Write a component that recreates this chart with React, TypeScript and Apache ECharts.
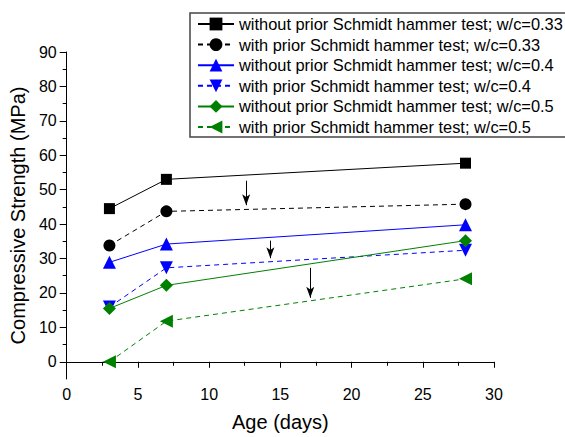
import React, { useEffect, useRef } from "react";
import * as echarts from "echarts";

const ageDays = [3, 7, 28];
const seriesNames = [
  "without prior Schmidt hammer test; w/c=0.33",
  "with prior Schmidt hammer test; w/c=0.33",
  "without prior Schmidt hammer test; w/c=0.4",
  "with prior Schmidt hammer test; w/c=0.4",
  "without prior Schmidt hammer test; w/c=0.5",
  "with prior Schmidt hammer test; w/c=0.5",
];
const woPrior033 = [44.5, 53.0, 57.7];
const wPrior033 = [33.8, 43.7, 45.8];
const woPrior04 = [28.9, 34.2, 39.8];
const wPrior04 = [15.9, 27.3, 32.4];
const woPrior05 = [15.5, 22.2, 35.2];
const wPrior05 = [0, 11.8, 24.1];

const arrowX = [12.6, 14.3, 17.1];
const arrowFrom = [52.6, 35.2, 27.3];
const arrowTo = [45.5, 30.1, 18.6];

const yMajorTicks = [0, 10, 20, 30, 40, 50, 60, 70, 80, 90];
const yMinorTicks = [5, 15, 25, 35, 45, 55, 65, 75, 85];

const FONT = "'Liberation Sans', Arial, sans-serif";

export default function App() {
  const ref = useRef<HTMLDivElement>(null);
  useEffect(() => {
    document.body.style.margin = "0";
    const chart = echarts.init(ref.current!, null, { renderer: "svg" });
    const values = [woPrior033, wPrior033, woPrior04, wPrior04, woPrior05, wPrior05];
    const colors = ["#000000", "#000000", "#0000ff", "#0000ff", "#008000", "#008000"];
    const symbols = ["rect", "circle", "triangle", "triangle", "diamond", "triangle"];
    const rotations = [0, 0, 0, 180, 0, 90];
    const sizes = [11, 12, 13, 13, 13, 13];
    const dashed = [false, true, false, true, false, true];
    const series: any[] = values.map((vals, i) => ({
      name: seriesNames[i],
      type: "line",
      xAxisIndex: 0,
      yAxisIndex: 0,
      data: vals.map((v, j) => [ageDays[j], v]),
      symbol: symbols[i],
      symbolRotate: rotations[i],
      symbolSize: sizes[i],
      showAllSymbol: true,
      color: colors[i],
      itemStyle: { color: colors[i] },
      lineStyle: { color: colors[i], width: 1, type: dashed[i] ? [5, 4] : "solid" },
      emphasis: { disabled: true },
    }));
    series[0].markLine = {
      silent: true,
      symbol: ["none", "arrow"],
      symbolSize: [6, 11],
      label: { show: false },
      lineStyle: { color: "#000", width: 1, type: "solid" },
      emphasis: { disabled: true },
      data: arrowX.map((x, i) => [
        { coord: [x, arrowFrom[i]] },
        { coord: [x, arrowTo[i]] },
      ]),
    };
    chart.setOption({
      animation: false,
      textStyle: { fontFamily: FONT },
      grid: { left: 66.7, right: 71, top: 52, bottom: 56 },
      legend: {
        orient: "vertical",
        left: 190,
        top: 13,
        padding: [3, 3, 2, 7],
        itemWidth: 36,
        itemHeight: 16,
        itemGap: 4.6,
        borderColor: "#444",
        borderWidth: 1.5,
        backgroundColor: "#fff",
        textStyle: { fontSize: 16.4, color: "#000", fontFamily: FONT },
        data: seriesNames,
      },
      xAxis: {
        type: "value",
        min: 0,
        max: 30,
        interval: 5,
        name: "Age (days)",
        nameLocation: "middle",
        nameGap: 33,
        nameTextStyle: { fontSize: 20, color: "#000", fontFamily: FONT },
        axisLine: { lineStyle: { color: "#000", width: 1 } },
        axisTick: { length: 6, lineStyle: { color: "#000" } },
        minorTick: { show: true, splitNumber: 2, length: 4, lineStyle: { color: "#000" } },
        axisLabel: { fontSize: 16, color: "#000", margin: 7, fontFamily: FONT },
        splitLine: { show: false },
      },
      yAxis: [
        {
          type: "value",
          min: -5,
          max: 90,
          position: "left",
          name: "Compressive Strength (MPa)",
          nameLocation: "middle",
          nameGap: 38,
          nameTextStyle: { fontSize: 20, color: "#000", fontFamily: FONT },
          axisLine: { show: true, lineStyle: { color: "#000", width: 1 } },
          axisTick: { show: true, length: 7, customValues: yMajorTicks, lineStyle: { color: "#000" } },
          axisLabel: { fontSize: 16, color: "#000", margin: 10, customValues: yMajorTicks, fontFamily: FONT },
          splitLine: { show: false },
        },
        {
          type: "value",
          min: -5,
          max: 90,
          position: "left",
          offset: 0,
          axisLine: { show: false },
          axisTick: { show: true, length: 4, customValues: yMinorTicks, lineStyle: { color: "#000" } },
          axisLabel: { show: false },
          splitLine: { show: false },
        },
      ],
      series,
    });
    return () => chart.dispose();
  }, []);
  return <div ref={ref} style={{ width: 565, height: 437 }} />;
}
